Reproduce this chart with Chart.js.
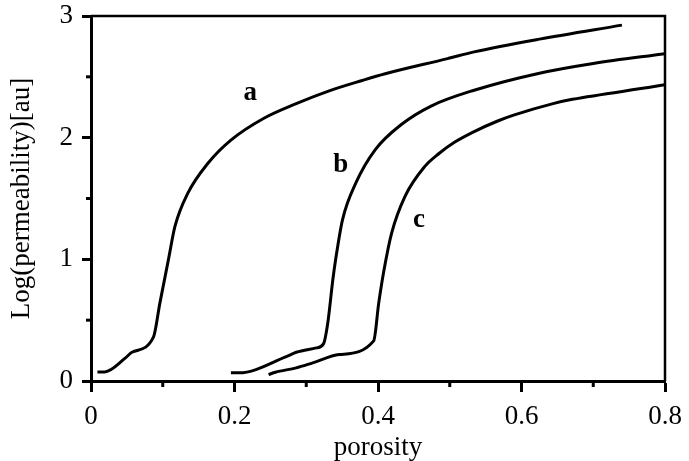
<!DOCTYPE html>
<html>
<head>
<meta charset="utf-8">
<script src="https://cdn.jsdelivr.net/npm/chart.js@4.4.1/dist/chart.umd.min.js"></script>
<style>
  html, body { margin: 0; padding: 0; background: #fff; }
  #wrap { width: 689px; height: 461px; }
</style>
</head>
<body>
<div id="wrap"><canvas id="grafico"></canvas></div>
<script>
// datos
const porosidadA = [0.009, 0.019, 0.048, 0.057, 0.087, 0.096, 0.108, 0.117, 0.135, 0.163, 0.195, 0.241, 0.286, 0.332, 0.378, 0.410, 0.497, 0.534, 0.625, 0.740];
const logPermA   = [0.075, 0.075, 0.19, 0.236, 0.36, 0.64, 1.0, 1.27, 1.544, 1.79, 1.98, 2.16, 2.28, 2.385, 2.47, 2.525, 2.65, 2.705, 2.81, 2.925];

const porosidadB = [0.195, 0.206, 0.273, 0.286, 0.314, 0.324, 0.330, 0.337, 0.341, 0.3505, 0.369, 0.396, 0.433, 0.474, 0.534, 0.625, 0.70, 0.8];
const logPermB   = [0.067, 0.067, 0.203, 0.236, 0.272, 0.305, 0.477, 0.83, 1.0, 1.325, 1.626, 1.90, 2.11, 2.26, 2.39, 2.53, 2.61, 2.69];

const porosidadC = [0.2475, 0.257, 0.286, 0.309, 0.346, 0.394, 0.401, 0.408, 0.419, 0.4375, 0.465, 0.485, 0.506, 0.534, 0.566, 0.589, 0.644, 0.671, 0.785, 0.8];
const logPermC   = [0.053, 0.072, 0.108, 0.149, 0.217, 0.33, 0.64, 0.9, 1.216, 1.516, 1.762, 1.87, 1.96, 2.05, 2.135, 2.185, 2.28, 2.315, 2.42, 2.435];

const etiquetas   = ["a", "b", "c"];
const etiquetasX  = [0.222, 0.348, 0.457];
const etiquetasY  = [2.367, 1.776, 1.325];

const ticksMenoresX = [0.1, 0.3, 0.5, 0.7];
const ticksMenoresY = [0.5, 1.5, 2.5];

const FUENTE = "'Liberation Serif', 'Times New Roman', serif";

function puntos(xs, ys) {
  return xs.map((x, i) => ({ x: x, y: ys[i] }));
}

function serie(xs, ys) {
  return {
    data: puntos(xs, ys),
    borderColor: "#000",
    borderWidth: 3,
    pointRadius: 0,
    showLine: true,
    fill: false,
    cubicInterpolationMode: "monotone"
  };
}

// marco, ticks menores y letras de las curvas
const extras = {
  id: "extras",
  afterDraw(chart) {
    const ctx = chart.ctx;
    const area = chart.chartArea;
    const sx = chart.scales.x, sy = chart.scales.y;
    ctx.save();
    ctx.strokeStyle = "#000";
    ctx.lineWidth = 2.5;
    ctx.beginPath();
    ctx.moveTo(area.left, area.top);
    ctx.lineTo(area.right, area.top);
    ctx.lineTo(area.right, area.bottom);
    ctx.stroke();

    ctx.lineWidth = 3;
    ticksMenoresX.forEach(v => {
      const px = sx.getPixelForValue(v);
      ctx.beginPath();
      ctx.moveTo(px, area.bottom + 1);
      ctx.lineTo(px, area.bottom + 6);
      ctx.stroke();
    });
    ticksMenoresY.forEach(v => {
      const py = sy.getPixelForValue(v);
      ctx.beginPath();
      ctx.moveTo(area.left - 5, py);
      ctx.lineTo(area.left, py);
      ctx.stroke();
    });

    ctx.fillStyle = "#000";
    ctx.font = "bold 27px " + FUENTE;
    ctx.textAlign = "center";
    ctx.textBaseline = "middle";
    etiquetas.forEach((t, i) => {
      ctx.fillText(t, sx.getPixelForValue(etiquetasX[i]), sy.getPixelForValue(etiquetasY[i]));
    });
    ctx.restore();
  }
};

const ctx = document.getElementById("grafico").getContext("2d");
new Chart(ctx, {
  type: "scatter",
  data: {
    datasets: [
      serie(porosidadA, logPermA),
      serie(porosidadB, logPermB),
      serie(porosidadC, logPermC)
    ]
  },
  options: {
    responsive: true,
    maintainAspectRatio: false,
    animation: false,
    layout: { padding: { top: 16, right: 24, left: 0, bottom: 0 } },
    plugins: {
      legend: { display: false },
      tooltip: { enabled: false }
    },
    scales: {
      x: {
        type: "linear",
        min: 0,
        max: 0.8,
        afterFit: s => { s.height = 80; s.paddingLeft = 0; s.paddingRight = 0; },
        ticks: {
          stepSize: 0.2,
          color: "#000",
          padding: 9,
          maxRotation: 0,
          font: { family: FUENTE, size: 27 },
          callback: v => String(Math.round(v * 10) / 10)
        },
        grid: { drawOnChartArea: false, tickLength: 11, tickWidth: 3, tickColor: "#000" },
        border: { color: "#000", width: 3 },
        title: {
          display: true,
          text: "porosity",
          color: "#000",
          padding: { top: 0, bottom: -3 },
          font: { family: FUENTE, size: 27 }
        }
      },
      y: {
        type: "linear",
        min: 0,
        max: 3,
        afterFit: s => { s.width = 91; s.paddingTop = 0; s.paddingBottom = 0; },
        ticks: {
          stepSize: 1,
          color: "#000",
          padding: 9,
          font: { family: FUENTE, size: 27 }
        },
        grid: { drawOnChartArea: false, tickLength: 9, tickWidth: 3, tickColor: "#000" },
        border: { color: "#000", width: 3 },
        title: {
          display: true,
          text: "Log(permeability)[au]",
          color: "#000",
          padding: { top: 6, bottom: 0 },
          font: { family: FUENTE, size: 27 }
        }
      }
    }
  },
  plugins: [extras]
});
</script>
</body>
</html>
